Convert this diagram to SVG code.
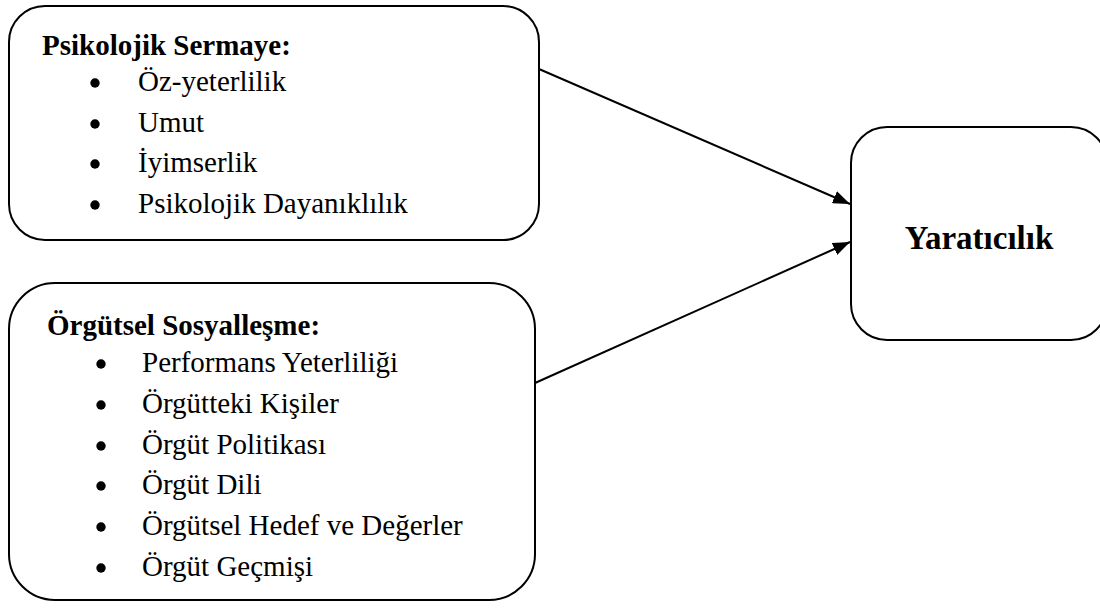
<svg xmlns="http://www.w3.org/2000/svg" width="1100" height="608" viewBox="0 0 1100 608">
<style>
.box{fill:#fff;stroke:#000;stroke-width:2}
.t{font-family:"Liberation Serif","Times New Roman",serif;font-size:29px;fill:#000}
.b{font-family:"Liberation Serif","Times New Roman",serif;font-size:29px;font-weight:bold;fill:#000}
.dot{fill:#000}
.con{stroke:#000;stroke-width:2;fill:none}
</style>
<defs>
<marker id="ah" viewBox="0 0 17 13" refX="17" refY="6.5" markerWidth="17" markerHeight="13" markerUnits="userSpaceOnUse" orient="auto">
<path d="M0,0 L17,6.5 L0,13 z" fill="#000"/>
</marker>
</defs>
<rect width="1100" height="608" fill="#fff"/>
<g id="connectors">
<line class="con" x1="539" y1="69" x2="850" y2="204" marker-end="url(#ah)"/>
<line class="con" x1="535" y1="383" x2="850" y2="242" marker-end="url(#ah)"/>
</g>
<g id="psikolojik">
<rect class="box" x="9" y="6" width="530" height="234" rx="36" ry="36"/>
<text class="b" x="42" y="55">Psikolojik Sermaye:</text>
<circle class="dot" cx="95" cy="83" r="4.7"/>
<text class="t" x="138" y="91">Öz-yeterlilik</text>
<circle class="dot" cx="95" cy="124" r="4.7"/>
<text class="t" x="138" y="132">Umut</text>
<circle class="dot" cx="95" cy="164" r="4.7"/>
<text class="t" x="138" y="172">İyimserlik</text>
<circle class="dot" cx="95" cy="205" r="4.7"/>
<text class="t" x="138" y="213">Psikolojik Dayanıklılık</text>
</g>
<g id="orgutsel">
<rect class="box" x="9" y="283" width="526" height="317" rx="46" ry="46"/>
<text class="b" x="47" y="335">Örgütsel Sosyalleşme:</text>
<circle class="dot" cx="101" cy="364" r="4.7"/>
<text class="t" x="142" y="372">Performans Yeterliliği</text>
<circle class="dot" cx="101" cy="405" r="4.7"/>
<text class="t" x="142" y="413">Örgütteki Kişiler</text>
<circle class="dot" cx="101" cy="446" r="4.7"/>
<text class="t" x="142" y="454">Örgüt Politikası</text>
<circle class="dot" cx="101" cy="486" r="4.7"/>
<text class="t" x="142" y="494">Örgüt Dili</text>
<circle class="dot" cx="101" cy="527" r="4.7"/>
<text class="t" x="142" y="535">Örgütsel Hedef ve Değerler</text>
<circle class="dot" cx="101" cy="568" r="4.7"/>
<text class="t" x="142" y="576">Örgüt Geçmişi</text>
</g>
<g id="yaraticilik">
<rect class="box" x="851" y="127" width="256" height="213" rx="36" ry="36"/>
<text class="b" x="979" y="249" text-anchor="middle" style="font-size:33px">Yaratıcılık</text>
</g>
</svg>
